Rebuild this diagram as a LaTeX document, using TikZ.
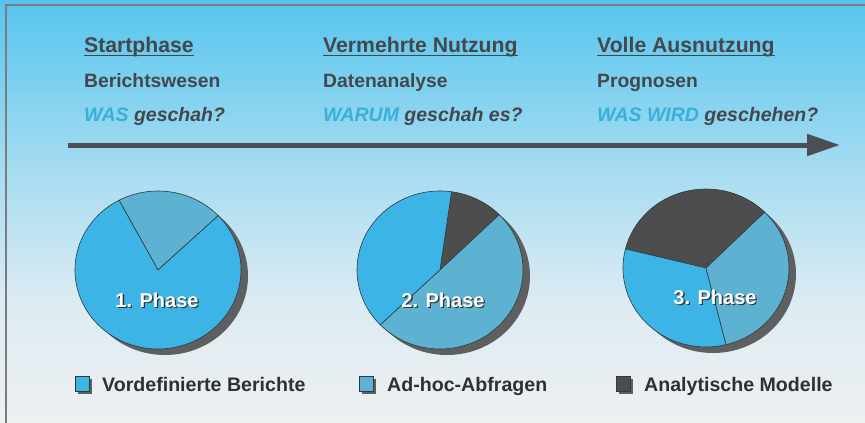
\documentclass[tikz,border=0pt]{standalone}
\usepackage{fontspec}
\setmainfont{Liberation Sans}
\usetikzlibrary{arrows.meta}
\definecolor{bgA}{HTML}{56C5EE}
\definecolor{bgB}{HTML}{A6DCF1}
\definecolor{bgC}{HTML}{DCEBF2}
\definecolor{bgD}{HTML}{EEF0F1}
\definecolor{framec}{HTML}{7A7D80}
\definecolor{textgrey}{HTML}{44474B}
\definecolor{cyantext}{HTML}{3AAFD9}
\definecolor{arrowc}{HTML}{4A4E55}
\definecolor{pieblue}{HTML}{3CB4E6}
\definecolor{pieadhoc}{HTML}{5CB2D0}
\definecolor{piedark}{HTML}{4D4D4D}
\definecolor{shadowc}{HTML}{5E5F61}
\definecolor{outl}{HTML}{2F3A40}
\definecolor{legtext}{HTML}{2E3033}
\newcommand\pieslice[5]{%
  \filldraw[draw=outl, line width=0.6pt, fill=#5] (#1,#2) -- ++(#3:83pt and 79pt)
    arc[start angle=#3, end angle=#4, x radius=83pt, y radius=79pt] -- cycle;}
\newcommand\pieshadow[2]{%
  \fill[shadowc] (#1+7,#2+6) ellipse [x radius=83pt, y radius=79pt];}
\begin{document}
\begin{tikzpicture}[x=1pt,y=-1pt,
  hdr/.style={font=\bfseries\fontsize{21.2}{24}\selectfont, text=textgrey, inner sep=0pt, anchor=base west},
  sub/.style={font=\bfseries\fontsize{19.3}{22}\selectfont, text=textgrey, inner sep=0pt, anchor=base west},
  quest/.style={font=\bfseries\itshape\fontsize{19.5}{22}\selectfont, text=textgrey, inner sep=0pt, anchor=base west},
  phase/.style={font=\bfseries\fontsize{20}{22}\selectfont, text=white, inner sep=0pt},
  phaseshadow/.style={font=\bfseries\fontsize{20}{22}\selectfont, text=black!80, inner sep=0pt},
  leg/.style={font=\bfseries\fontsize{19.6}{22}\selectfont, text=legtext, inner sep=0pt, anchor=base west},
  uline/.style={textgrey, line width=1pt}
]
\useasboundingbox (0,0) rectangle (865,423);
% background
\shade[top color=bgA, bottom color=bgB] (0,0) rectangle (865,170);
\shade[top color=bgB, bottom color=bgC] (0,169.5) rectangle (865,300);
\shade[top color=bgC, bottom color=bgD] (0,299.5) rectangle (865,423);
\draw[framec, line width=1.2pt] (6,423) -- (6,5) -- (865,5);

% column 1
\node[hdr] (h1) at (84,52) {Startphase};
\draw[uline] ([yshift=-3pt]h1.base west) -- ([yshift=-3pt]h1.base east);
\node[sub] (s1) at (84,87) {Berichtswesen};
\node[quest] (q1) at (84,121) {\textcolor{cyantext}{WAS} geschah?};
% column 2
\node[hdr] (h2) at (323,52) {Vermehrte Nutzung};
\draw[uline] ([yshift=-3pt]h2.base west) -- ([yshift=-3pt]h2.base east);
\node[sub] (s2) at (323,87) {Datenanalyse};
\node[quest] (q2) at (323,121) {\textcolor{cyantext}{WARUM} geschah es?};
% column 3
\node[hdr] (h3) at (597,52) {Volle Ausnutzung};
\draw[uline] ([yshift=-3pt]h3.base west) -- ([yshift=-3pt]h3.base east);
\node[sub] (s3) at (597,87) {Prognosen};
\node[quest] (q3) at (597,121) {\textcolor{cyantext}{WAS WIRD} geschehen?};

% arrow
\coordinate (as) at (68,145);
\coordinate (ae) at (840,145);
\draw[arrowc, line width=5pt, -{Triangle[length=33pt,width=21pt]}] (as) -- (ae);

% pie 1
\pieshadow{158}{270}
\pieslice{158}{270}{43.5}{118}{pieadhoc}
\pieslice{158}{270}{118}{403.5}{pieblue}
\node[phaseshadow] (p1s) at (158.3,301.8) {1. Phase};
\node[phase] (p1) at (157,300.5) {1. Phase};
% pie 2
\pieshadow{440}{270}
\pieslice{440}{270}{44.5}{82}{piedark}
\pieslice{440}{270}{82}{224}{pieblue}
\pieslice{440}{270}{224}{404.5}{pieadhoc}
\node[phaseshadow] (p2s) at (444.3,301.3) {2. Phase};
\node[phase] (p2) at (443,300) {2. Phase};
% pie 3
\pieshadow{706}{268}
\pieslice{706}{268}{45}{166}{piedark}
\pieslice{706}{268}{166}{284}{pieblue}
\pieslice{706}{268}{284}{405}{pieadhoc}
\node[phaseshadow] (p3s) at (716.3,298.3) {3. Phase};
\node[phase] (p3) at (715,297) {3. Phase};

% legend
\fill[shadowc] (78,379) rectangle (92,394);
\filldraw[fill=pieblue, draw=outl, line width=0.5pt] (75,376) rectangle (89,391);
\node[leg] (l1) at (102,391) {Vordefinierte Berichte};
\fill[shadowc] (362,379) rectangle (376,394);
\filldraw[fill=pieadhoc, draw=outl, line width=0.5pt] (359,376) rectangle (373,391);
\node[leg] (l2) at (387,391) {Ad-hoc-Abfragen};
\fill[shadowc] (619,379) rectangle (633,394);
\filldraw[fill=piedark, draw=outl, line width=0.5pt] (616,376) rectangle (630,391);
\node[leg] (l3) at (644,391) {Analytische Modelle};
\end{tikzpicture}
\end{document}
